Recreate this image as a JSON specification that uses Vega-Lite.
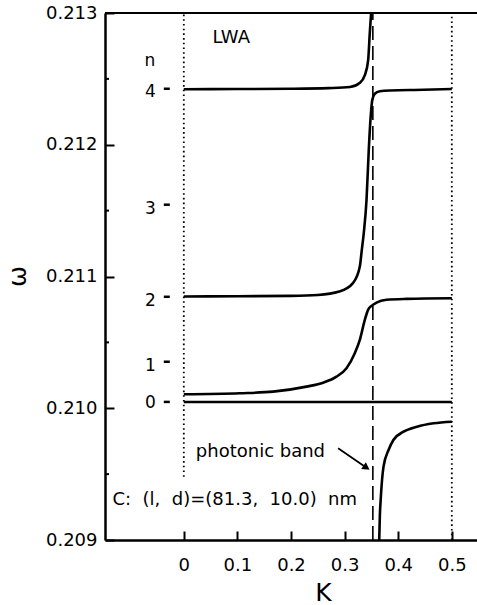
{
  "$schema": "https://vega.github.io/schema/vega-lite/v6.json",
  "width": 372,
  "height": 527,
  "autosize": {"type": "none"},
  "padding": {"left": 105, "top": 13, "right": 0, "bottom": 65},
  "config": {"view": {"stroke": null}, "font": "DejaVu Sans"},
  "datasets": {
    "curves": [
      {"branch": "A", "K": 0, "w": 0.212421},
      {"branch": "A", "K": 0.1, "w": 0.212423},
      {"branch": "A", "K": 0.2, "w": 0.212425},
      {"branch": "A", "K": 0.27, "w": 0.21243},
      {"branch": "A", "K": 0.31, "w": 0.212438},
      {"branch": "A", "K": 0.328, "w": 0.212468},
      {"branch": "A", "K": 0.338, "w": 0.212531},
      {"branch": "A", "K": 0.344, "w": 0.212645},
      {"branch": "A", "K": 0.347, "w": 0.21285},
      {"branch": "A", "K": 0.3495, "w": 0.213},
      {"branch": "B", "K": 0, "w": 0.210848},
      {"branch": "B", "K": 0.1, "w": 0.21085},
      {"branch": "B", "K": 0.2, "w": 0.210853},
      {"branch": "B", "K": 0.25, "w": 0.21086},
      {"branch": "B", "K": 0.29, "w": 0.210886},
      {"branch": "B", "K": 0.316, "w": 0.210952},
      {"branch": "B", "K": 0.3284, "w": 0.211076},
      {"branch": "B", "K": 0.3321, "w": 0.211202},
      {"branch": "B", "K": 0.3358, "w": 0.211331},
      {"branch": "B", "K": 0.3409, "w": 0.211582},
      {"branch": "B", "K": 0.3451, "w": 0.211962},
      {"branch": "B", "K": 0.3489, "w": 0.212228},
      {"branch": "B", "K": 0.3517, "w": 0.212342},
      {"branch": "B", "K": 0.3563, "w": 0.212387},
      {"branch": "B", "K": 0.3657, "w": 0.212406},
      {"branch": "B", "K": 0.385, "w": 0.212412},
      {"branch": "B", "K": 0.447, "w": 0.212417},
      {"branch": "B", "K": 0.5, "w": 0.212423},
      {"branch": "C", "K": 0, "w": 0.210106},
      {"branch": "C", "K": 0.1045, "w": 0.210114},
      {"branch": "C", "K": 0.1666, "w": 0.210126},
      {"branch": "C", "K": 0.2289, "w": 0.210164},
      {"branch": "C", "K": 0.2599, "w": 0.210194},
      {"branch": "C", "K": 0.2849, "w": 0.21024},
      {"branch": "C", "K": 0.3035, "w": 0.210304},
      {"branch": "C", "K": 0.319, "w": 0.210418},
      {"branch": "C", "K": 0.3284, "w": 0.210519},
      {"branch": "C", "K": 0.3377, "w": 0.210671},
      {"branch": "C", "K": 0.3438, "w": 0.210747},
      {"branch": "C", "K": 0.3502, "w": 0.210777},
      {"branch": "C", "K": 0.3595, "w": 0.210802},
      {"branch": "C", "K": 0.3782, "w": 0.210823},
      {"branch": "C", "K": 0.4155, "w": 0.21083},
      {"branch": "C", "K": 0.5, "w": 0.210835},
      {"branch": "D", "K": 0.3646, "w": 0.209},
      {"branch": "D", "K": 0.3657, "w": 0.209177},
      {"branch": "D", "K": 0.3673, "w": 0.209304},
      {"branch": "D", "K": 0.3726, "w": 0.209557},
      {"branch": "D", "K": 0.382, "w": 0.209683},
      {"branch": "D", "K": 0.391, "w": 0.209759},
      {"branch": "D", "K": 0.41, "w": 0.209822},
      {"branch": "D", "K": 0.435, "w": 0.20986},
      {"branch": "D", "K": 0.466, "w": 0.209886},
      {"branch": "D", "K": 0.5, "w": 0.209898},
      {"branch": "n0", "K": 0, "w": 0.210048},
      {"branch": "n0", "K": 0.5, "w": 0.210048}
    ],
    "vlines": [
      {"kind": "dot", "K": 0, "w": 0.20948, "w2": 0.213},
      {"kind": "dot", "K": 0.5, "w": 0.209, "w2": 0.213},
      {"kind": "dash", "K": 0.3527, "w": 0.209, "w2": 0.213}
    ],
    "frame": [
      {"K": -0.147, "K2": 0.547, "w": 0.213}
    ],
    "minorticks": [
      {"K": -0.147, "K2": -0.1395, "w": 0.2095},
      {"K": -0.147, "K2": -0.1395, "w": 0.2105},
      {"K": -0.147, "K2": -0.1395, "w": 0.2115},
      {"K": -0.147, "K2": -0.1395, "w": 0.2125}
    ],
    "levels": [
      {"n": "4", "K": -0.0373, "K2": -0.0261, "w": 0.212425},
      {"n": "3", "K": -0.0373, "K2": -0.0261, "w": 0.211545},
      {"n": "2", "K": -0.0373, "K2": -0.0261, "w": 0.210846},
      {"n": "1", "K": -0.0373, "K2": -0.0261, "w": 0.210353},
      {"n": "0", "K": -0.0373, "K2": -0.0261, "w": 0.210048}
    ],
    "numbers": [
      {"n": "4", "K": -0.0522, "w": 0.212402},
      {"n": "3", "K": -0.0522, "w": 0.21151},
      {"n": "2", "K": -0.0522, "w": 0.210811},
      {"n": "1", "K": -0.0522, "w": 0.210322},
      {"n": "0", "K": -0.0522, "w": 0.210043}
    ],
    "notes": [
      {"label": "LWA", "K": 0.0535, "w": 0.212812, "kind": "lwa"},
      {"label": "n", "K": -0.0634, "w": 0.212638, "kind": "n"},
      {"label": "photonic band", "K": 0.0224, "w": 0.209632, "kind": "ann"},
      {"label": "C:\u00a0 (l,\u00a0 d)=(81.3,\u00a0 10.0)\u00a0 nm", "K": -0.133, "w": 0.209266, "kind": "ann"}
    ],
    "arrow": [
      {"K": 0.2879, "w": 0.209696, "K2": 0.3409, "w2": 0.209549}
    ]
  },
  "layer": [
    {
      "data": {"name": "curves"},
      "mark": {"type": "line", "color": "black", "strokeWidth": 2.6, "interpolate": "monotone", "clip": true},
      "encoding": {
        "x": {
          "field": "K", "type": "quantitative",
          "scale": {"domain": [-0.147, 0.547], "nice": false, "zero": false},
          "axis": {
            "title": "K",
            "values": [0, 0.1, 0.2, 0.3, 0.4, 0.5],
            "labelExpr": "datum.value == 0 ? '0' : format(datum.value, '.1f')",
            "grid": false,
            "tickSize": -9, "tickWidth": 2, "tickColor": "black",
            "domainColor": "black", "domainWidth": 2.5,
            "labelFont": "DejaVu Sans", "labelFontSize": 18, "labelColor": "black",
            "labelPadding": 25, "labelFlush": false, "labelOverlap": false,
            "titleFont": "DejaVu Sans", "titleFontSize": 25, "titleFontWeight": "normal", "titleColor": "black",
            "titleX": 218, "titleY": 60, "titleBaseline": "alphabetic", "titleAlign": "center"
          }
        },
        "y": {
          "field": "w", "type": "quantitative",
          "scale": {"domain": [0.209, 0.213], "nice": false, "zero": false},
          "axis": {
            "title": "ω",
            "values": [0.209, 0.21, 0.211, 0.212, 0.213],
            "format": ".3f",
            "grid": false,
            "tickSize": -9, "tickWidth": 2, "tickColor": "black",
            "domainColor": "black", "domainWidth": 2.5,
            "labelFont": "DejaVu Sans", "labelFontSize": 18, "labelColor": "black",
            "labelPadding": 17, "labelFlush": false, "labelOverlap": false, "labelBaseline": "middle",
            "titleFont": "DejaVu Sans", "titleFontSize": 25, "titleFontWeight": "normal", "titleColor": "black",
            "titleX": -80, "titleY": 263, "titleBaseline": "alphabetic", "titleAngle": -90, "titleAlign": "center"
          }
        },
        "detail": {"field": "branch"}
      }
    },
    {
      "data": {"name": "frame"},
      "mark": {"type": "rule", "color": "black", "strokeWidth": 2},
      "encoding": {
        "x": {"field": "K", "type": "quantitative"},
        "x2": {"field": "K2"},
        "y": {"field": "w", "type": "quantitative"}
      }
    },
    {
      "data": {"name": "minorticks"},
      "mark": {"type": "rule", "color": "black", "strokeWidth": 2},
      "encoding": {
        "x": {"field": "K", "type": "quantitative"},
        "x2": {"field": "K2"},
        "y": {"field": "w", "type": "quantitative"}
      }
    },
    {
      "data": {"name": "vlines"},
      "transform": [{"filter": "datum.kind == 'dot'"}],
      "mark": {"type": "rule", "color": "black", "strokeWidth": 1.8, "strokeDash": [1.6, 3.1]},
      "encoding": {
        "x": {"field": "K", "type": "quantitative"},
        "y": {"field": "w", "type": "quantitative"},
        "y2": {"field": "w2"}
      }
    },
    {
      "data": {"name": "vlines"},
      "transform": [{"filter": "datum.kind == 'dash'"}],
      "mark": {"type": "rule", "color": "black", "strokeWidth": 1.6, "strokeDash": [14, 6]},
      "encoding": {
        "x": {"field": "K", "type": "quantitative"},
        "y": {"field": "w", "type": "quantitative"},
        "y2": {"field": "w2"}
      }
    },
    {
      "data": {"name": "levels"},
      "mark": {"type": "rule", "color": "black", "strokeWidth": 2.5},
      "encoding": {
        "x": {"field": "K", "type": "quantitative"},
        "x2": {"field": "K2"},
        "y": {"field": "w", "type": "quantitative"}
      }
    },
    {
      "data": {"name": "numbers"},
      "mark": {"type": "text", "font": "DejaVu Sans", "fontSize": 17, "align": "right", "baseline": "middle", "color": "black"},
      "encoding": {
        "x": {"field": "K", "type": "quantitative"},
        "y": {"field": "w", "type": "quantitative"},
        "text": {"field": "n"}
      }
    },
    {
      "data": {"name": "notes"},
      "transform": [{"filter": "datum.kind == 'lwa'"}],
      "mark": {"type": "text", "font": "DejaVu Sans", "fontSize": 18, "align": "left", "baseline": "middle", "color": "black"},
      "encoding": {
        "x": {"field": "K", "type": "quantitative"},
        "y": {"field": "w", "type": "quantitative"},
        "text": {"field": "label"}
      }
    },
    {
      "data": {"name": "notes"},
      "transform": [{"filter": "datum.kind == 'n'"}],
      "mark": {"type": "text", "font": "DejaVu Sans", "fontSize": 17, "align": "center", "baseline": "middle", "color": "black"},
      "encoding": {
        "x": {"field": "K", "type": "quantitative"},
        "y": {"field": "w", "type": "quantitative"},
        "text": {"field": "label"}
      }
    },
    {
      "data": {"name": "notes"},
      "transform": [{"filter": "datum.kind == 'ann'"}],
      "mark": {"type": "text", "font": "DejaVu Sans", "fontSize": 18, "align": "left", "baseline": "alphabetic", "color": "black"},
      "encoding": {
        "x": {"field": "K", "type": "quantitative"},
        "y": {"field": "w", "type": "quantitative"},
        "text": {"field": "label"}
      }
    },
    {
      "data": {"name": "arrow"},
      "mark": {"type": "rule", "color": "black", "strokeWidth": 1.8},
      "encoding": {
        "x": {"field": "K", "type": "quantitative"},
        "x2": {"field": "K2"},
        "y": {"field": "w", "type": "quantitative"},
        "y2": {"field": "w2"}
      }
    },
    {
      "data": {"name": "arrow"},
      "mark": {"type": "point", "shape": "triangle-up", "filled": true, "color": "black", "opacity": 1, "size": 70, "angle": 124},
      "encoding": {
        "x": {"field": "K2", "type": "quantitative"},
        "y": {"field": "w2", "type": "quantitative"}
      }
    }
  ]
}
